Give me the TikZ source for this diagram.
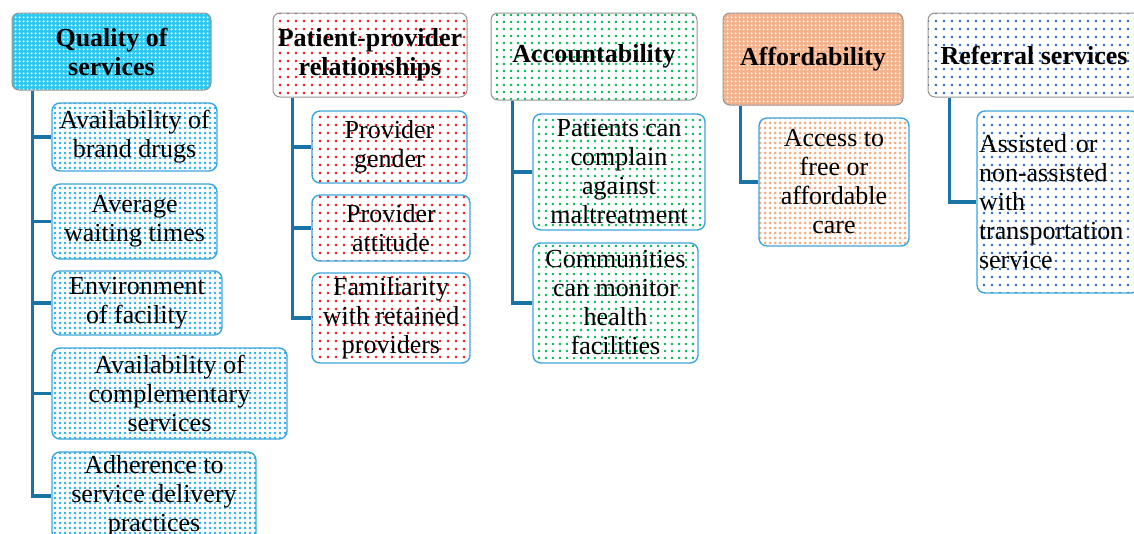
\documentclass[tikz,border=0pt]{standalone}
\usepackage{fontspec}
\setmainfont{Liberation Serif}
\usetikzlibrary{patterns.meta,positioning}
\usepackage{xcolor}
\definecolor{qcyan}{RGB}{40,200,240}
\definecolor{dotcyan}{RGB}{30,175,235}
\definecolor{dotred}{RGB}{245,10,10}
\definecolor{dotgreen}{RGB}{0,180,80}
\definecolor{salmon}{RGB}{244,170,125}
\definecolor{dotblue}{RGB}{25,100,185}
\definecolor{leafline}{RGB}{60,165,220}
\definecolor{connblue}{RGB}{25,115,165}

\begin{document}
\begin{tikzpicture}[x=1pt,y=-1pt,
  head/.style = {draw=gray!85, line width=1pt, rounded corners=7pt, align=center,
                 inner sep=2pt, font=\fontsize{26}{29}\selectfont\bfseries},
  leaf/.style = {draw=leafline, line width=1.4pt, rounded corners=8pt, align=center,
                 inner sep=2pt, font=\fontsize{26}{29}\selectfont},
  conn/.style = {draw=connblue, line width=3.4pt},
  cyandots/.style  = {pattern={Dots[distance=5pt,radius=1.4pt]}, pattern color=dotcyan},
  reddots/.style   = {pattern={Dots[distance=8pt,radius=1.4pt]}, pattern color=dotred},
  greendots/.style = {pattern={Dots[distance=7pt,radius=1.4pt]}, pattern color=dotgreen},
  salmondots/.style= {pattern={Dots[distance=5pt,radius=1.5pt]}, pattern color=salmon},
  bluedots/.style  = {pattern={Dots[distance=8pt,radius=1.4pt]}, pattern color=dotblue}]
	\useasboundingbox (0,0) rectangle (1134,533);
	\clip (0,0) rectangle (1134,533);
	% headers
	\node[head, minimum width=199pt, minimum height=77pt, preaction={fill=qcyan},
	      pattern={Dots[distance=4pt,radius=1.4pt]}, pattern color=white!90!qcyan]
	      (qual) at (111.5,51.5) {Quality of\\services};
	\node[head, reddots, minimum width=194pt, minimum height=84pt] (rel) at (370,55) {Patient-provider\\relationships};
	\node[head, greendots, minimum width=206pt, minimum height=87pt] (acc) at (594,56.5) {Accountability};
	\node[head, minimum width=180pt, minimum height=92pt, preaction={fill=salmon!90},
	      pattern={Dots[distance=4pt,radius=1.4pt]}, pattern color=white!85!salmon]
	      (aff) at (813,59) {Affordability};
	\node[head, bluedots, minimum width=212pt, minimum height=84pt] (ref) at (1034,55) {Referral services};
	% quality of services
	\node[leaf, cyandots, minimum width=165pt, minimum height=68pt] (q1) at (134.5,137) {Availability of\\brand drugs};
	\node[leaf, cyandots, minimum width=165pt, minimum height=75pt] (q2) at (134.5,221.5) {Average\\waiting times};
	\node[leaf, cyandots, minimum width=170pt, minimum height=64pt] (q3) at (137,303) {Environment\\of facility};
	\node[leaf, cyandots, minimum width=235pt, minimum height=91pt] (q4) at (169.5,393.5) {Availability of\\complementary\\services};
	\node[leaf, cyandots, minimum width=204pt, minimum height=88pt] (q5) at (154,496) {Adherence to\\service delivery\\practices};
	% patient-provider relationships
	\node[leaf, reddots, minimum width=155pt, minimum height=72pt] (r1) at (389.5,147) {Provider\\gender};
	\node[leaf, reddots, minimum width=158pt, minimum height=66pt] (r2) at (391,228) {Provider\\attitude};
	\node[leaf, reddots, minimum width=158pt, minimum height=90pt] (r3) at (391,318) {Familiarity\\with retained\\providers};
	% accountability
	\node[leaf, greendots, minimum width=172pt, minimum height=116pt] (a1) at (619,172) {Patients can\\complain\\against\\maltreatment};
	\node[leaf, greendots, minimum width=165pt, minimum height=120pt] (a2) at (615.5,303) {Communities\\can monitor\\health\\facilities};
	% affordability
	\node[leaf, salmondots, minimum width=150pt, minimum height=128pt] (f1) at (834,182) {Access to\\free or\\affordable\\care};
	% referral services
	\node[leaf, bluedots, align=left, text width=158pt, minimum height=182pt] (s1) at (1058,202) {Assisted or\\non-assisted\\with\\transportation\\service};
	% connectors
	\foreach \c in {q1,q2,q3,q4,q5}
		\draw[conn] ([xshift=21pt]qual.south west) |- (\c.west);
	\foreach \c in {r1,r2,r3}
		\draw[conn] ([xshift=20pt]rel.south west) |- (\c.west);
	\foreach \c in {a1,a2}
		\draw[conn] ([xshift=22pt]acc.south west) |- (\c.west);
	\draw[conn] ([xshift=18pt]aff.south west) |- (f1.west);
	\draw[conn] ([xshift=22pt]ref.south west) |- (s1.west);
\end{tikzpicture}
\end{document}
